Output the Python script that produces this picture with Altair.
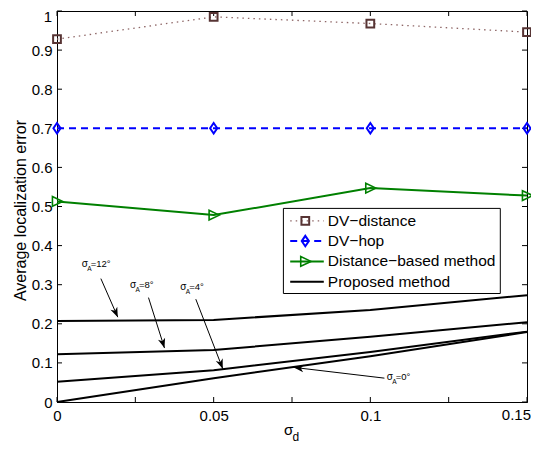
import math
import altair as alt
import pandas as pd

# ---------------- data ----------------
X_VALS = [0, 0.05, 0.1, 0.15]
DV_DISTANCE = [0.928, 0.985, 0.968, 0.946]
DV_HOP = [0.70, 0.70, 0.70, 0.70]
DIST_BASED = [0.513, 0.478, 0.547, 0.528]
PROP_12 = [0.207, 0.210, 0.235, 0.273]
PROP_8 = [0.122, 0.133, 0.167, 0.204]
PROP_4 = [0.052, 0.081, 0.128, 0.180]
PROP_0 = [0.000, 0.061, 0.117, 0.179]

LEGEND_LABELS = ["DV\u2212distance", "DV\u2212hop", "Distance\u2212based method", "Proposed method"]
X_TICKS = [0, 0.05, 0.1, 0.15]
X_MINOR = [0, 0.025, 0.05, 0.075, 0.1, 0.125, 0.15]
Y_TICKS = [0, 0.1, 0.2, 0.3, 0.4, 0.5, 0.6, 0.7, 0.8, 0.9, 1.0]

# annotations (sigma_A labels with arrows), data units
ANN_REST = ["=12\u00b0", "=8\u00b0", "=4\u00b0", "=0\u00b0"]
ANN_TEXT_X = [0.0079, 0.0233, 0.0393, 0.1052]
ANN_TEXT_Y = [0.3445, 0.2908, 0.2864, 0.0563]
ARROW_SX = [0.0140, 0.0292, 0.0443, 0.1045]
ARROW_SY = [0.3156, 0.267, 0.263, 0.0610]
ARROW_TX = [0.0194, 0.0343, 0.0529, 0.0756]
ARROW_TY = [0.217, 0.138, 0.085, 0.0885]

W, H = 470, 391
FONT = "Liberation Sans"

xs = alt.Scale(domain=[0, 0.15], nice=False, zero=False)
ys = alt.Scale(domain=[0, 1], nice=False, zero=False)
x_axis = alt.Axis(values=X_TICKS, format="~g", tickSize=0, labelFontSize=15, labelFont=FONT,
                  labelColor="black", labelPadding=6, labelFlush=False, labelOverlap=False,
                  labelExpr="datum.value >= 0.149 ? '' : datum.label",
                  domainColor="black", grid=False, title=None)
y_axis = alt.Axis(values=Y_TICKS, format="~g", tickSize=0, labelFontSize=15, labelFont=FONT,
                  labelColor="black", labelPadding=5, labelOverlap=False,
                  labelExpr="datum.value >= 0.99 ? '' : datum.label",
                  domainColor="black", grid=False, title=None)


def X(f):
    return alt.X(f, type="quantitative", scale=xs, axis=x_axis)


def Y(f):
    return alt.Y(f, type="quantitative", scale=ys, axis=y_axis)


def sdf(vals, name):
    return pd.DataFrame({"x": X_VALS, "y": vals, "s": name})


DIAMOND = "M0,-1 L0.68,0 L0,1 L-0.68,0 Z"
TRI_R = "M1,0 L-0.8,-0.85 L-0.8,0.85 Z"
ARROW = "M0,0 L0.38,1 L0,0.72 L-0.38,1 Z"

styles = [
    dict(vals=DV_DISTANCE, line="#8e6666", mcolor="#573434", dash=[1.5, 4], lw=1.3,
         shape="square", size=60, msw=2),
    dict(vals=DV_HOP, line="#0000ff", mcolor="#0000ff", dash=[7, 5], lw=2,
         shape=DIAMOND, size=110, msw=2),
    dict(vals=DIST_BASED, line="#008000", mcolor="#008000", dash=None, lw=2,
         shape=TRI_R, size=130, msw=1.6),
]

layers = []

# inward tick marks on all four sides
tx_df = pd.DataFrame({"t": X_MINOR})
ty_df = pd.DataFrame({"t": Y_TICKS})
layers.append(alt.Chart(tx_df).mark_rule(color="black", strokeWidth=1).encode(
    x=X("t"), y=alt.value(H), y2=alt.value(H - 5)))
layers.append(alt.Chart(tx_df).mark_rule(color="black", strokeWidth=1).encode(
    x=X("t"), y=alt.value(0), y2=alt.value(5)))
layers.append(alt.Chart(ty_df).mark_rule(color="black", strokeWidth=1).encode(
    y=Y("t"), x=alt.value(0), x2=alt.value(5)))
layers.append(alt.Chart(ty_df).mark_rule(color="black", strokeWidth=1).encode(
    y=Y("t"), x=alt.value(W), x2=alt.value(W - 5)))

# edge tick labels (kept inside the picture)
last_x = pd.DataFrame({"t": [X_TICKS[-1]], "lab": ["0.15"]})
top_y = pd.DataFrame({"t": [Y_TICKS[-1]], "lab": ["1"]})
layers.append(alt.Chart(last_x).mark_text(align="right", baseline="top", dx=4, fontSize=15,
                                          font=FONT, color="black").encode(
    x=X("t"), y=alt.value(H + 6), text="lab:N"))
layers.append(alt.Chart(top_y).mark_text(align="right", baseline="middle", dy=5.5, fontSize=15,
                                         font=FONT, color="black").encode(
    y=Y("t"), x=alt.value(-5), text="lab:N"))

# series
for st, name in zip(styles, LEGEND_LABELS[:3]):
    d = sdf(st["vals"], name)
    lk = dict(color=st["line"], strokeWidth=st["lw"])
    if st["dash"]:
        lk["strokeDash"] = st["dash"]
    layers.append(alt.Chart(d).mark_line(**lk).encode(x=X("x"), y=Y("y")))
    layers.append(alt.Chart(d).mark_point(shape=st["shape"], size=st["size"], filled=False,
                                          color=st["mcolor"], strokeWidth=st["msw"], opacity=1)
                  .encode(x=X("x"), y=Y("y")))

prop = pd.concat([sdf(PROP_12, "12"), sdf(PROP_8, "8"), sdf(PROP_4, "4"), sdf(PROP_0, "0")])
layers.append(alt.Chart(prop).mark_line(color="black", strokeWidth=2).encode(
    x=X("x"), y=Y("y"), detail="s:N"))

# annotations
ann = pd.DataFrame({"tx": ANN_TEXT_X, "ty": ANN_TEXT_Y, "rest": ANN_REST,
                    "sx": ARROW_SX, "sy": ARROW_SY, "ex": ARROW_TX, "ey": ARROW_TY})
ann["ang"] = [
    (math.degrees(math.atan2((ex - sx) * W / 0.15, (ey - sy) * H)) + 360) % 360
    for sx, sy, ex, ey in zip(ARROW_SX, ARROW_SY, ARROW_TX, ARROW_TY)
]
layers.append(alt.Chart(ann).mark_rule(color="black", strokeWidth=1).encode(
    x=X("sx"), y=Y("sy"), x2="ex", y2="ey"))
layers.append(alt.Chart(ann).mark_point(shape=ARROW, size=380, filled=True, color="black",
                                        opacity=1, strokeWidth=0.5).encode(
    x=X("ex"), y=Y("ey"), angle=alt.Angle("ang:Q", scale=None)))
layers.append(alt.Chart(ann).mark_text(text="\u03c3", align="left", baseline="alphabetic",
                                       fontSize=10, font=FONT, color="black").encode(
    x=X("tx"), y=Y("ty")))
layers.append(alt.Chart(ann).mark_text(text="A", align="left", baseline="alphabetic", dx=5.6, dy=4,
                                       fontSize=6.5, font=FONT, color="black").encode(
    x=X("tx"), y=Y("ty")))
layers.append(alt.Chart(ann).mark_text(align="left", baseline="alphabetic", dx=9,
                                       fontSize=9.5, font=FONT, color="black").encode(
    x=X("tx"), y=Y("ty"), text="rest:N"))

# legend
LEG_L, LEG_R, LEG_T, LEG_B = 226.4, 443.3, 197.4, 282.5
ROW0, ROWSTEP = 209.8, 20.3
one = pd.DataFrame({"k": [0]})
layers.append(alt.Chart(one).mark_rect(fill="white", stroke="black", strokeWidth=1).encode(
    x=alt.value(LEG_L), x2=alt.value(LEG_R), y=alt.value(LEG_T), y2=alt.value(LEG_B)))
leg_styles = styles + [dict(line="black", dash=None, lw=2, shape=None)]
for i, (st, lab) in enumerate(zip(leg_styles, LEGEND_LABELS)):
    ry = ROW0 + i * ROWSTEP
    lk = dict(color=st["line"], strokeWidth=st["lw"])
    if st["dash"]:
        lk["strokeDash"] = st["dash"]
    layers.append(alt.Chart(one).mark_rule(**lk).encode(
        x=alt.value(233.2), x2=alt.value(266.8), y=alt.value(ry)))
    if st["shape"]:
        layers.append(alt.Chart(one).mark_point(shape=st["shape"], size=st["size"], filled=False,
                                                color=st["mcolor"], strokeWidth=st["msw"], opacity=1)
                      .encode(x=alt.value(248.3), y=alt.value(ry)))
    layers.append(alt.Chart(pd.DataFrame({"lab": [lab]})).mark_text(
        align="left", baseline="middle", fontSize=15.5, font=FONT, color="black").encode(
        x=alt.value(270.8), y=alt.value(ry), text="lab:N"))

# axis titles
layers.append(alt.Chart(one).mark_text(text="Average localization error", angle=270, align="center",
                                       baseline="middle", fontSize=16, font=FONT, color="black").encode(
    x=alt.value(-36), y=alt.value(199.5)))
layers.append(alt.Chart(one).mark_text(text="\u03c3", align="left", baseline="alphabetic",
                                       fontSize=15, font=FONT, color="black").encode(
    x=alt.value(227), y=alt.value(424)))
layers.append(alt.Chart(one).mark_text(text="d", align="left", baseline="alphabetic",
                                       fontSize=12, font=FONT, color="black").encode(
    x=alt.value(235.5), y=alt.value(429.5)))

chart = alt.layer(*layers).properties(
    width=W, height=H,
    autosize=alt.AutoSizeParams(type="none"),
    padding={"left": 49, "top": 3, "right": 4, "bottom": 41},
).configure_view(stroke="black", strokeWidth=1).configure_axis(domainWidth=1)

chart.save("out.html", embed_options={"renderer": "svg", "actions": False})
